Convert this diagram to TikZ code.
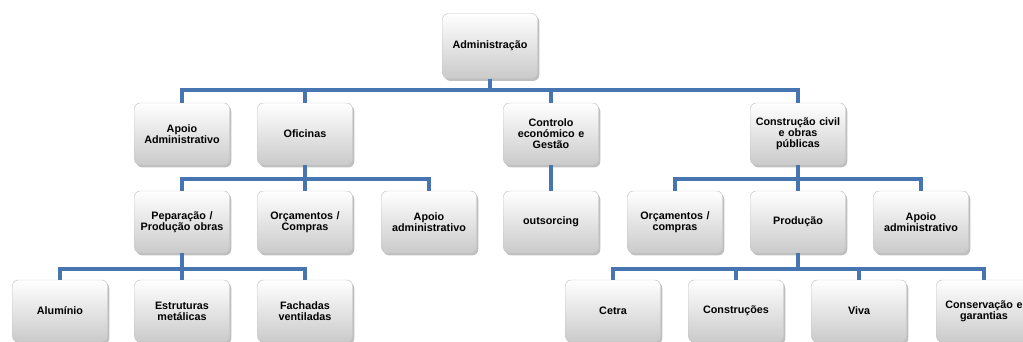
\documentclass[tikz,border=0pt]{standalone}
\usepackage{fontspec}
\setmainfont{Liberation Sans}
\usepackage{xcolor}
\definecolor{line01}{HTML}{4675B2}
\definecolor{box01}{HTML}{CACACA}
\usetikzlibrary{positioning, shadows}
\tikzset{
    unit/.style={
        rectangle, draw=gray!45, thin,
        rounded corners=5pt,
        top color=white, bottom color=box01,
        drop shadow={shadow xshift=1.5pt, shadow yshift=-2pt, opacity=0.5},
        minimum width=2.85cm, minimum height=1.86cm,
        text width=2.7cm, align=center,
        inner sep=0pt,
        font=\fontsize{9.2}{9.5}\selectfont\bfseries
    },
    rootunit/.style={
        unit,
        minimum height=1.95cm
    },
    conn/.style={
        line01,
        line width=2.6pt
    },
}

\begin{document}
\begin{tikzpicture}[x=0.03cm, y=-0.03cm]
        \useasboundingbox (0,0) rectangle (1023,342);

        \node[rootunit] (adm) at (490,46) {Administração};

        \node[unit] (apoio) at (182,134) {Apoio\\Administrativo};
        \node[unit] (ofic) at (305,134) {Oficinas};
        \node[unit] (ctrl) at (551,134) {Controlo\\económico e\\Gestão};
        \node[unit] (cons) at (798,134) {Construção civil\\e obras\\públicas};

        \node[unit] (prep) at (182,222) {Peparação /\\Produção obras};
        \node[unit] (orcof) at (305,222) {Orçamentos /\\Compras};
        \node[unit] (apoof) at (429,222) {Apoio\\administrativo};
        \node[unit] (outs) at (551,222) {outsorcing};
        \node[unit] (orcco) at (675,222) {Orçamentos /\\compras};
        \node[unit] (prod) at (798,222) {Produção};
        \node[unit] (apoco) at (921,222) {Apoio\\administrativo};

        \node[unit] (alu) at (60,311) {Alumínio};
        \node[unit] (estr) at (182,311) {Estruturas\\metálicas};
        \node[unit] (fach) at (305,311) {Fachadas\\ventiladas};
        \node[unit] (cetra) at (613,311) {Cetra};
        \node[unit] (constr) at (736,311) {Construções};
        \node[unit] (viva) at (859,311) {Viva};
        \node[unit] (consv) at (984,311) {Conservação e\\garantias};

        \coordinate (bus1) at (0,90);
        \coordinate (bus2) at (0,179);
        \coordinate (bus3) at (0,269);

        \foreach \c in {apoio, ofic, ctrl, cons}
            \draw[conn] (adm.south) -- (adm.south |- bus1) -| (\c.north);
        \foreach \c in {prep, orcof, apoof}
            \draw[conn] (ofic.south) -- (ofic.south |- bus2) -| (\c.north);
        \draw[conn] (ctrl.south) -- (outs.north);
        \foreach \c in {orcco, prod, apoco}
            \draw[conn] (cons.south) -- (cons.south |- bus2) -| (\c.north);
        \foreach \c in {alu, estr, fach}
            \draw[conn] (prep.south) -- (prep.south |- bus3) -| (\c.north);
        \foreach \c in {cetra, constr, viva, consv}
            \draw[conn] (prod.south) -- (prod.south |- bus3) -| (\c.north);
    \end{tikzpicture}
\end{document}
